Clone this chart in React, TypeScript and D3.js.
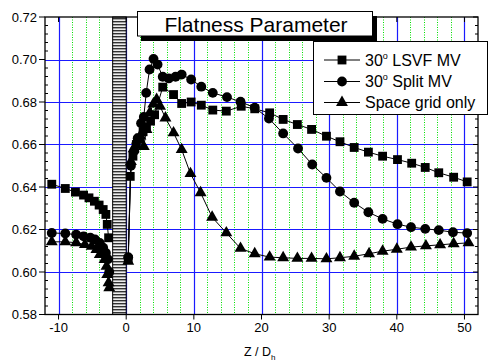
import React, { useEffect, useRef } from 'react';
import * as d3 from 'd3';

// upstream (z < -2) and downstream (z > 0) measurements
const lsvfUpZ = [-11.0, -9.0, -7.5, -6.3, -5.5, -4.7, -4.0, -3.4, -3.0, -2.8, -2.6];
const lsvfUpVal = [0.6413, 0.6393, 0.6376, 0.6362, 0.6349, 0.6333, 0.6315, 0.6294, 0.6271, 0.6224, 0.6161];
const lsvfDownZ = [0.3, 0.6, 1.0, 1.5, 2.0, 2.5, 3.0, 3.6, 4.2, 5.4, 7.0, 8.2, 9.6, 11.1, 12.8, 14.8, 17.0, 19.0, 21.2, 23.2, 25.3, 27.4, 29.6, 31.6, 33.7, 35.8, 37.9, 40.1, 42.2, 44.2, 46.2, 48.4, 50.4];
const lsvfDownVal = [0.606, 0.645, 0.6545, 0.66, 0.663, 0.666, 0.668, 0.671, 0.674, 0.687, 0.6835, 0.6793, 0.68, 0.6785, 0.6762, 0.6757, 0.678, 0.6768, 0.6749, 0.6718, 0.6694, 0.6671, 0.6639, 0.6613, 0.6586, 0.6564, 0.6545, 0.6529, 0.6512, 0.6492, 0.6467, 0.6446, 0.6424];

const splitUpZ = [-11.0, -9.0, -7.4, -6.3, -5.3, -4.6, -3.9, -3.4, -3.0, -2.7, -2.5];
const splitUpVal = [0.6184, 0.6181, 0.6176, 0.6168, 0.6161, 0.6153, 0.6137, 0.6114, 0.609, 0.606, 0.6];
const splitDownZ = [0.3, 0.7, 1.2, 1.7, 2.2, 2.6, 2.96, 3.45, 4.04, 4.64, 5.4, 6.3, 7.3, 8.2, 9.6, 11.1, 12.8, 14.9, 16.9, 19.0, 21.1, 23.2, 25.4, 27.5, 29.6, 31.6, 33.7, 35.8, 37.9, 40.1, 42.1, 44.2, 46.2, 48.3, 50.4];
const splitDownVal = [0.607, 0.65, 0.657, 0.663, 0.67, 0.673, 0.6843, 0.6953, 0.7003, 0.6976, 0.6919, 0.6911, 0.6919, 0.6929, 0.6906, 0.6872, 0.6843, 0.6823, 0.6801, 0.6773, 0.6722, 0.6652, 0.6581, 0.6506, 0.6443, 0.6379, 0.6326, 0.6281, 0.625, 0.6225, 0.6211, 0.6203, 0.6197, 0.6187, 0.6183];

const gridUpZ = [-11.0, -9.0, -7.4, -6.1, -5.1, -4.4, -3.9, -3.2, -2.9, -2.8, -2.6, -2.5];
const gridUpVal = [0.6142, 0.6142, 0.6138, 0.6129, 0.6121, 0.6106, 0.6082, 0.6059, 0.6027, 0.5988, 0.5949, 0.5926];
const gridDownZ = [0.3, 0.7, 1.1, 1.6, 2.1, 2.6, 3.0, 3.5, 4.0, 4.5, 5.0, 5.8, 7.0, 8.2, 9.5, 11.0, 12.7, 14.8, 16.9, 19.0, 21.2, 23.2, 25.3, 27.4, 29.6, 31.6, 33.7, 35.9, 37.9, 40.0, 42.1, 44.3, 46.4, 48.4, 50.6];
const gridDownVal = [0.605, 0.652, 0.658, 0.662, 0.664, 0.659, 0.667, 0.675, 0.679, 0.6812, 0.678, 0.6725, 0.6655, 0.6576, 0.6463, 0.6373, 0.6258, 0.6184, 0.6111, 0.6086, 0.607, 0.6067, 0.6064, 0.6064, 0.6062, 0.6067, 0.6074, 0.6086, 0.6098, 0.6107, 0.6117, 0.6123, 0.6128, 0.6133, 0.6137];

const seriesNames = ['LSVF MV', 'Split MV', 'Space grid only'];
const yTickValues = [0.58, 0.60, 0.62, 0.64, 0.66, 0.68, 0.70, 0.72];
const xTickValues = [-10, 0, 10, 20, 30, 40, 50];
const chartTitle = 'Flatness Parameter';

const FONT = '"Liberation Sans", Arial, Helvetica, sans-serif';

const App: React.FC = () => {
  const svgRef = useRef<SVGSVGElement | null>(null);

  useEffect(() => {
    if (!svgRef.current) return;
    const width = 488;
    const height = 361;
    const svg = d3.select(svgRef.current).html('');

    const x = d3.scaleLinear().domain([-12, 52]).range([45, 478]);
    const y = d3.scaleLinear().domain([0.58, 0.72]).range([314.5, 17]);
    const [x0, x1] = x.range();
    const [yb, yt] = y.range();

    svg.attr('width', width).attr('height', height);
    svg.append('rect').attr('width', width).attr('height', height).attr('fill', '#fff');

    const defs = svg.append('defs');
    const pat = defs.append('pattern')
      .attr('id', 'hatch')
      .attr('patternUnits', 'userSpaceOnUse')
      .attr('width', 6).attr('height', 3);
    pat.append('rect').attr('width', 6).attr('height', 3).attr('fill', '#eee');
    pat.append('rect').attr('y', 0).attr('width', 6).attr('height', 1.4).attr('fill', '#333');

    // minor green dotted grid
    const minorX = d3.range(-10, 52, 2).filter(v => v % 10 !== 0);
    svg.append('g').selectAll('line')
      .data(minorX)
      .enter()
      .append('line')
      .attr('x1', d => Math.round(x(d)) + 0.5)
      .attr('x2', d => Math.round(x(d)) + 0.5)
      .attr('y1', yt).attr('y2', yb)
      .attr('stroke', '#00e000')
      .attr('stroke-width', 1)
      .attr('stroke-dasharray', '1,1.5');

    // major blue grid
    svg.append('g').selectAll('line')
      .data(xTickValues)
      .enter()
      .append('line')
      .attr('x1', d => Math.round(x(d)) + 0.5)
      .attr('x2', d => Math.round(x(d)) + 0.5)
      .attr('y1', yt).attr('y2', yb)
      .attr('stroke', '#1a1aff')
      .attr('stroke-width', 1.2);
    svg.append('g').selectAll('line')
      .data(yTickValues.slice(1, -1))
      .enter()
      .append('line')
      .attr('x1', x0).attr('x2', x1)
      .attr('y1', d => Math.round(y(d)) + 0.5)
      .attr('y2', d => Math.round(y(d)) + 0.5)
      .attr('stroke', '#1a1aff')
      .attr('stroke-width', 1.2);

    // hatched region between z = -2 and 0
    svg.append('rect')
      .attr('x', x(-2)).attr('y', yt)
      .attr('width', x(0) - x(-2)).attr('height', yb - yt)
      .attr('fill', 'url(#hatch)')
      .attr('stroke', '#000').attr('stroke-width', 1);

    const line = d3.line<[number, number]>()
      .x(d => x(d[0]))
      .y(d => y(d[1]));

    const zip = (zs: number[], vs: number[]) => zs.map((z, i) => [z, vs[i]] as [number, number]);

    const series = [
      { name: seriesNames[0], sym: d3.symbolSquare, size: 78, parts: [zip(lsvfUpZ, lsvfUpVal), zip(lsvfDownZ, lsvfDownVal)] },
      { name: seriesNames[1], sym: d3.symbolCircle, size: 76, parts: [zip(splitUpZ, splitUpVal), zip(splitDownZ, splitDownVal)] },
      { name: seriesNames[2], sym: d3.symbolTriangle, size: 62, parts: [zip(gridUpZ, gridUpVal), zip(gridDownZ, gridDownVal)] },
    ];

    series.forEach(s => {
      s.parts.forEach(part => {
        svg.append('path')
          .datum(part)
          .attr('fill', 'none')
          .attr('stroke', '#000')
          .attr('stroke-width', 1)
          .attr('d', line);
      });
    });
    series.forEach(s => {
      const sym = d3.symbol().type(s.sym).size(s.size);
      s.parts.forEach(part => {
        svg.append('g').selectAll('path')
          .data(part)
          .enter()
          .append('path')
          .attr('transform', d => `translate(${x(d[0])},${y(d[1])})`)
          .attr('d', sym()!)
          .attr('fill', '#000');
      });
    });

    // frame
    svg.append('rect')
      .attr('x', x0).attr('y', yt)
      .attr('width', x1 - x0).attr('height', yb - yt)
      .attr('fill', 'none').attr('stroke', '#000').attr('stroke-width', 1.3);

    // ticks
    const ticks = svg.append('g').attr('stroke', '#000').attr('stroke-width', 1);
    const minorY = d3.range(0.584, 0.72, 0.004).filter(v => Math.abs(Math.round(v / 0.02) * 0.02 - v) > 0.001);
    yTickValues.forEach(v => {
      ticks.append('line').attr('x1', x0 - 6).attr('x2', x0).attr('y1', y(v)).attr('y2', y(v));
      ticks.append('line').attr('x1', x1).attr('x2', x1 - 5).attr('y1', y(v)).attr('y2', y(v));
    });
    minorY.forEach(v => {
      ticks.append('line').attr('x1', x0).attr('x2', x0 + 3).attr('y1', y(v)).attr('y2', y(v));
      ticks.append('line').attr('x1', x1).attr('x2', x1 - 3).attr('y1', y(v)).attr('y2', y(v));
    });
    xTickValues.forEach(v => {
      ticks.append('line').attr('x1', x(v)).attr('x2', x(v)).attr('y1', yb).attr('y2', yb + 5);
      ticks.append('line').attr('x1', x(v)).attr('x2', x(v)).attr('y1', yt).attr('y2', yt + 5);
    });

    // tick labels
    svg.append('g').selectAll('text')
      .data(yTickValues)
      .enter()
      .append('text')
      .attr('x', x0 - 8)
      .attr('y', d => y(d) + 4.5)
      .attr('text-anchor', 'end')
      .attr('font-family', FONT)
      .attr('font-size', 13)
      .text(d => d.toFixed(2));
    svg.append('g').selectAll('text')
      .data(xTickValues)
      .enter()
      .append('text')
      .attr('x', d => x(d))
      .attr('y', yb + 17)
      .attr('text-anchor', 'middle')
      .attr('font-family', FONT)
      .attr('font-size', 13)
      .text(d => String(d));

    // axis title
    const xt = svg.append('text')
      .attr('x', 244)
      .attr('y', 356)
      .attr('font-family', FONT)
      .attr('font-size', 12.5);
    xt.append('tspan').text('Z / D');
    xt.append('tspan').attr('font-size', 8).attr('dy', 4).text('h');

    // title box with shadow
    svg.append('rect').attr('x', 141).attr('y', 16).attr('width', 236).attr('height', 25).attr('fill', '#000');
    svg.append('rect').attr('x', 137.5).attr('y', 11.5).attr('width', 235).attr('height', 24.5)
      .attr('fill', '#fff').attr('stroke', '#000').attr('stroke-width', 1);
    svg.append('text')
      .attr('x', 256).attr('y', 31.5)
      .attr('text-anchor', 'middle')
      .attr('font-family', FONT)
      .attr('font-size', 21)
      .text(chartTitle);

    // legend
    svg.append('rect').attr('x', 313.5).attr('y', 41.5).attr('width', 174).attr('height', 73)
      .attr('fill', '#fff').attr('stroke', '#000').attr('stroke-width', 1);
    const rowsY = [60, 81.5, 102.5];
    series.forEach((s, i) => {
      const ly = rowsY[i];
      svg.append('line').attr('x1', 324).attr('x2', 360).attr('y1', ly).attr('y2', ly)
        .attr('stroke', '#000').attr('stroke-width', 1);
      svg.append('path')
        .attr('transform', `translate(342,${ly})`)
        .attr('d', d3.symbol().type(s.sym).size(s.size)()!)
        .attr('fill', '#000');
      const t = svg.append('text')
        .attr('x', 365).attr('y', ly + 5.5)
        .attr('font-family', FONT)
        .attr('font-size', 16);
      if (i < 2) {
        t.append('tspan').text('30');
        t.append('tspan').attr('font-size', 9).attr('dy', -7).text('o');
        t.append('tspan').attr('dy', 7).text(' ' + s.name);
      } else {
        t.text(s.name);
      }
    });
  }, []);

  return (
    <svg ref={svgRef} style={{ position: 'absolute', left: 0, top: 0, display: 'block' }} />
  );
};

export default App;
